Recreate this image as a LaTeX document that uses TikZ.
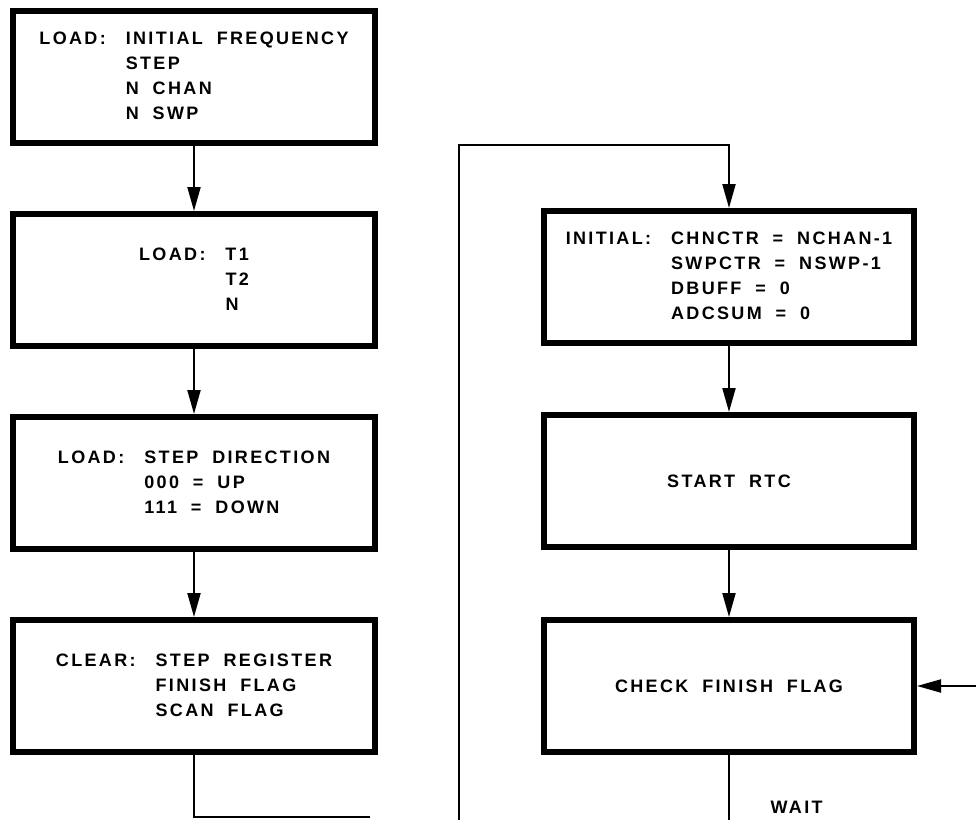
\documentclass[tikz,border=0pt]{standalone}
\usepackage{fontspec}
\setmainfont{Liberation Sans}[LetterSpace=13,WordSpace=1.9]
\usetikzlibrary{arrows.meta}

\begin{document}
\begin{tikzpicture}[x=0.5pt,y=-0.5pt,
  box/.style={draw,line width=3pt,minimum width=181pt,minimum height=66pt,
    inner sep=0pt,font=\fontsize{9}{12.5}\selectfont\bfseries},
  wide/.style={minimum width=185pt},
  flow/.style={line width=1pt,-{Triangle[length=12pt,width=6.5pt]}},
  wire/.style={line width=1pt}]
  \useasboundingbox (0,0) rectangle (976,820);
  \node[box] (load1) at (194,77) {\begin{tabular}{@{}l@{\hspace{10pt}}l@{}}
    LOAD: & INITIAL FREQUENCY\\ & STEP\\ & N CHAN\\ & N SWP\end{tabular}};
  \node[box] (load2) at (194,280) {\begin{tabular}{@{}l@{\hspace{10pt}}l@{}}
    LOAD: & T1\\ & T2\\ & N\end{tabular}\hspace{22pt}};
  \node[box] (load3) at (194,483) {\begin{tabular}{@{}l@{\hspace{10pt}}l@{}}
    LOAD: & STEP DIRECTION\\ & 000 = UP\\ & 111 = DOWN\end{tabular}};
  \node[box] (clear) at (194,686) {\begin{tabular}{@{}l@{\hspace{10pt}}l@{}}
    CLEAR: & STEP REGISTER\\ & FINISH FLAG\\ & SCAN FLAG\end{tabular}};
  \node[box,wide] (init) at (729,277) {\begin{tabular}{@{}l@{\hspace{10pt}}l@{}}
    INITIAL: & CHNCTR = NCHAN-1\\ & SWPCTR = NSWP-1\\ & DBUFF = 0\\ & ADCSUM = 0\end{tabular}};
  \node[box,wide] (rtc) at (729,481) {START RTC};
  \node[box,wide] (check) at (729,686) {CHECK FINISH FLAG};
  \coordinate (out) at (370,817);
  \coordinate (in) at (459,820);
  \coordinate (top) at (459,145);
  \coordinate (back) at (976,686);
  \coordinate (wait) at (729,820);
  \draw[flow] (load1) -- (load2);
  \draw[flow] (load2) -- (load3);
  \draw[flow] (load3) -- (clear);
  \draw[wire] (clear.south) |- (out);
  \draw[flow] (in) -- (top) -| (init.north);
  \draw[flow] (init) -- (rtc);
  \draw[flow] (rtc) -- (check);
  \draw[flow] (back) -- (check.east);
  \draw[wire] (check.south) -- (wait)
    node[pos=0.8,right=17pt,font=\fontsize{9}{12.5}\selectfont\bfseries] (waitlbl) {WAIT};
\end{tikzpicture}
\end{document}
